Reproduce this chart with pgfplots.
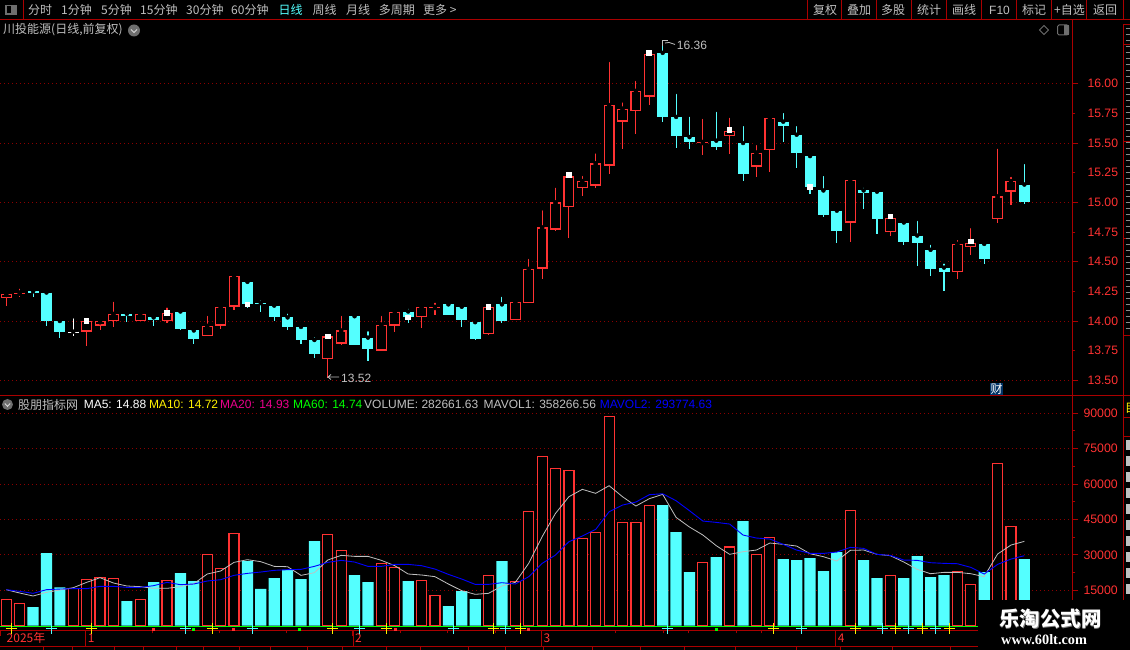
\documentclass[border=0pt]{standalone}
\usepackage{fontspec}
\setmainfont{Liberation Sans}
\newfontfamily\cjk{Noto Sans CJK SC}
\newfontfamily\wmserif{Liberation Serif}
\usepackage{pgfplots}
\usepackage{pgfplotstable}
\pgfplotsset{compat=1.18}
\definecolor{upC}{RGB}{255,50,50}
\definecolor{dnC}{RGB}{84,255,255}
\definecolor{lineC}{RGB}{170,0,0}
\definecolor{gridC}{RGB}{140,0,0}
\definecolor{txtC}{RGB}{192,192,192}
\definecolor{iconC}{RGB}{110,110,110}
\definecolor{blueC}{RGB}{0,0,255}
\definecolor{greenC}{RGB}{0,255,0}
\definecolor{caiC}{RGB}{0,51,102}

% i open high low close
\pgfplotstableread{
i o h l c
0 14.19 14.23 14.13 14.23
1 14.23 14.29 14.20 14.24
6 13.91 14.00 13.79 14.00
7 13.96 14.01 13.92 14.00
8 14.00 14.18 13.95 14.06
10 14.00 14.07 14.00 14.06
12 14.00 14.13 13.98 14.07
15 13.87 14.06 13.87 13.96
16 13.96 14.13 13.93 14.12
17 14.12 14.38 14.09 14.38
24 13.68 13.87 13.52 13.87
25 13.81 14.06 13.80 13.92
28 13.75 14.06 13.75 13.97
29 13.96 14.11 13.91 14.08
31 14.03 14.12 13.94 14.12
32 14.11 14.17 14.05 14.12
36 13.89 14.16 13.88 14.12
38 14.01 14.17 14.01 14.16
39 14.15 14.54 14.15 14.44
40 14.44 14.95 14.35 14.79
41 14.77 15.14 14.76 15.00
42 14.96 15.23 14.70 15.22
43 15.12 15.24 15.05 15.18
44 15.14 15.43 15.12 15.33
45 15.31 16.20 15.24 15.82
46 15.68 15.86 15.45 15.79
47 15.77 16.04 15.58 15.94
48 15.89 16.29 15.82 16.25
52 15.50 15.72 15.40 15.51
54 15.56 15.73 15.41 15.60
56 15.30 15.50 15.21 15.42
57 15.44 15.73 15.26 15.71
63 14.83 15.22 14.67 15.19
66 14.75 14.89 14.72 14.87
71 14.41 14.70 14.35 14.65
72 14.62 14.80 14.56 14.66
74 14.86 15.47 14.83 15.05
75 15.09 15.23 14.98 15.18
}\candlesUp
\pgfplotstableread{
i o h l c
2 14.25 14.27 14.20 14.24
3 14.24 14.25 13.96 14.00
4 14.00 14.00 13.86 13.91
9 14.06 14.07 13.99 14.04
11 14.03 14.04 13.96 14.01
13 14.08 14.09 13.92 13.93
14 13.92 13.95 13.81 13.85
18 14.33 14.36 14.11 14.14
19 14.15 14.19 14.08 14.14
20 14.13 14.16 14.00 14.03
21 14.03 14.08 13.92 13.95
22 13.95 13.98 13.81 13.84
23 13.84 13.88 13.69 13.72
26 14.04 14.07 13.80 13.80
27 13.86 13.93 13.66 13.76
30 14.08 14.12 13.98 14.03
33 14.14 14.16 14.05 14.05
34 14.12 14.13 13.95 14.01
35 13.99 14.02 13.84 13.85
37 14.14 14.22 13.98 14.00
49 16.26 16.36 15.68 15.72
50 15.72 15.93 15.46 15.56
51 15.55 15.74 15.45 15.51
53 15.52 15.78 15.44 15.47
55 15.50 15.66 15.18 15.24
58 15.68 15.77 15.51 15.64
59 15.57 15.66 15.29 15.42
60 15.39 15.39 15.07 15.13
61 15.10 15.24 14.88 14.89
62 14.93 14.96 14.66 14.76
64 15.10 15.14 14.94 15.08
65 15.09 15.10 14.73 14.86
67 14.83 14.83 14.64 14.67
68 14.72 14.86 14.46 14.66
69 14.60 14.66 14.38 14.44
70 14.45 14.50 14.25 14.41
73 14.65 14.65 14.48 14.52
76 15.15 15.34 14.99 15.00
}\candlesDown
\pgfplotstableread{
i o h l c
5 13.91 14.04 13.87 13.90
}\candlesFlat
\pgfplotstableread{
i p
6 14.00
12 14.07
18 14.14
24 13.87
30 14.03
36 14.12
42 15.23
48 16.26
54 15.61
60 15.13
66 14.88
72 14.67
}\whiteMarks
% volume
\pgfplotstableread{
i v
0 11170
1 9475
5 15830
6 19640
7 20490
8 20060
10 11170
12 19220
15 30230
16 24300
17 39130
24 38700
25 31930
28 26420
29 24720
31 19220
32 12860
36 21330
38 18790
39 48450
40 71740
41 66660
42 65810
43 37010
44 39550
45 88690
46 43790
47 43790
48 50990
52 26840
54 33340
56 30230
57 37430
63 48870
66 21330
71 23030
72 17520
74 68780
75 42090
}\volUp
\pgfplotstableread{
i v
2 7920
3 30800
4 16250
9 10460
11 18510
13 22320
14 18930
18 27410
19 15550
20 20210
21 23600
22 19780
23 35880
26 21480
27 18510
30 18930
33 8340
34 14700
35 11310
37 27410
49 51130
50 39690
51 22750
53 29100
55 44350
58 28250
59 27830
60 28680
61 23170
62 31220
64 27830
65 20210
67 20210
68 29530
69 20630
70 21480
73 22750
76 28250
}\volDown
\pgfplotstableread{
i v
0 15260
1 13850
2 12580
3 14130
4 15120
5 16110
6 18370
7 20340
8 18090
9 16820
10 16540
11 15830
12 15830
13 16540
14 17800
15 21900
16 23170
17 26840
18 27970
19 27120
20 25140
21 25000
22 21330
23 22460
24 27830
25 29810
26 29380
27 29380
28 27690
29 25430
30 21900
31 21480
32 20770
33 17670
34 14840
35 13290
36 13710
37 16820
38 18370
39 26430
40 37720
41 47600
42 54660
43 57770
44 56080
45 59320
46 54660
47 50700
48 53810
49 55650
50 45900
51 41810
52 38420
53 33900
54 30230
55 31360
56 32060
57 35030
58 34460
59 33750
60 30500
61 29240
62 27400
63 31920
64 32060
65 30230
66 29660
67 26970
68 23870
69 22030
70 22600
71 22600
72 22030
73 20760
74 30360
75 34180
76 35730
}\mavolOne
\pgfplotstableread{
i v
0 15260
1 14560
2 13710
3 15260
4 15530
5 15690
6 15690
7 16680
8 16680
9 16250
10 16250
11 16960
12 18370
13 17380
14 17670
15 18930
16 19490
17 21330
18 22170
19 22740
20 23450
21 23730
22 23870
23 25140
24 26840
25 27680
26 26970
27 25140
28 25140
29 25980
30 25980
31 25420
32 24010
33 21750
34 19770
35 17510
36 17510
37 18220
38 17650
39 20760
40 26400
41 29940
42 35590
43 37990
44 40810
45 48290
46 51120
47 52390
48 55500
49 55920
50 52950
51 48720
52 44340
53 43770
54 43070
55 38400
56 37140
57 36710
58 34450
59 32050
60 30640
61 30640
62 31200
63 33180
64 32760
65 30220
66 29790
67 27820
68 27680
69 26690
70 26410
71 26260
72 24710
73 21890
74 25980
75 28240
76 29650
}\mavolTwo

\newcommand\tl[4]{\node[anchor=west,inner sep=0pt,text=#1] at (#2pt,{(650-#3)*1pt}) {#4};}
\newcommand\hl[4][lineC]{\draw[#1,line width=1pt] (#2pt,{(650-#4)*1pt}) -- (#3pt,{(650-#4)*1pt});}
\newcommand\vl[4][lineC]{\draw[#1,line width=1pt] (#2pt,{(650-#3)*1pt}) -- (#2pt,{(650-#4)*1pt});}

\begin{document}
\fontsize{12}{14}\selectfont
\begin{tikzpicture}
\useasboundingbox (0,0) rectangle (1130pt,650pt);
\fill[black] (0,0) rectangle (1130pt,650pt);

% ---------- price panel
\begin{axis}[
  at={(0pt,254pt)},anchor=south west,
  scale only axis,width=1072.3pt,height=376pt,
  xmin=-0.47,xmax=79.58,ymin=13.368,ymax=16.537,
  axis y line=right,axis x line=none,
  axis line style={lineC,-,line width=1pt},
  clip mode=individual,
  ytick={13.5,14,14.5,15,15.5,16},
  extra y ticks={13.75,14.25,14.75,15.25,15.75},
  extra y tick style={grid=none,major tick length=3pt,
     y tick label style={xshift=3pt}},
  major tick length=6pt,
  tick align=outside,
  ymajorgrids,
  grid style={gridC,line width=0.9pt,dash pattern=on 1pt off 3pt},
  tick style={lineC,line width=1pt},
  y tick label style={text=upC,font=\fontsize{12.2}{14}\selectfont,xshift=5pt},
  /pgf/number format/.cd,fixed,fixed zerofill,precision=2,assume math mode=true,
]
% wicks
\addplot[only marks,mark=none,error bars/.cd,y dir=minus,y explicit,error mark=none,
   error bar style={upC,line width=1.1pt}]
   table[x=i,y=h,y error minus expr=\thisrow{h}-\thisrow{l}] {\candlesUp};
\addplot[only marks,mark=none,error bars/.cd,y dir=minus,y explicit,error mark=none,
   error bar style={dnC,line width=1.1pt}]
   table[x=i,y=h,y error minus expr=\thisrow{h}-\thisrow{l}] {\candlesDown};
\addplot[only marks,mark=none,error bars/.cd,y dir=minus,y explicit,error mark=none,
   error bar style={white,line width=1.1pt}]
   table[x=i,y=h,y error minus expr=\thisrow{h}-\thisrow{l}] {\candlesFlat};
% bodies
\addplot[only marks,mark=none,error bars/.cd,y dir=minus,y explicit,error mark=none,
   error bar style={upC,line width=11pt}]
   table[x=i,y=c,y error minus expr=\thisrow{c}-\thisrow{o}] {\candlesUp};
\addplot[only marks,mark=none,error bars/.cd,y dir=minus,y explicit,error mark=none,
   error bar style={black,line width=8.6pt}]
   table[x=i,y expr=\thisrow{c}-0.011,y error minus expr={max(\thisrow{c}-\thisrow{o}-0.022,0)}] {\candlesUp};
\addplot[only marks,mark=none,error bars/.cd,y dir=minus,y explicit,error mark=none,
   error bar style={dnC,line width=11pt}]
   table[x=i,y=o,y error minus expr=\thisrow{o}-\thisrow{c}] {\candlesDown};
\addplot[only marks,mark=none,error bars/.cd,y dir=minus,y explicit,error mark=none,
   error bar style={white,line width=11pt}]
   table[x=i,y=o,y error minus expr=\thisrow{o}-\thisrow{c}] {\candlesFlat};
\addplot[only marks,mark=square*,mark size=2.3pt,white,mark options={draw=white,fill=white,line width=0pt}]
   table[x=i,y=p] {\whiteMarks};
\end{axis}

% ---------- volume panel
\begin{axis}[
  at={(0pt,19.7pt)},anchor=south west,
  scale only axis,width=1072.3pt,height=234.3pt,
  xmin=-0.47,xmax=79.58,ymin=-1949,ymax=97330,
  axis y line=right,axis x line=bottom,
  axis line style={lineC,-,line width=1pt},
  clip mode=individual,
  ytick={15000,30000,45000,60000,75000,90000},
  minor y tick num=1,
  scaled y ticks=false,
  xtick={-0.47,5.93,25.88,39.94,61.92},
  xticklabels={\hspace{4.5pt}2025年,1,2,3,4},
  minor xtick={10.95,15.9,20.9,29.4,32.9,36.5,45.5,49.05,50.9,54.5,56.4},
  x tick label style={text=upC,font=\cjk\fontsize{12}{14}\selectfont,anchor=west,inner xsep=2pt,yshift=-2pt},
  major tick length=6pt,minor tick length=3pt,
  tick align=outside,
  x tick style={lineC,line width=1pt},
  y tick style={lineC,line width=1pt},
  ymajorgrids,
  grid style={gridC,line width=0.9pt,dash pattern=on 1pt off 3pt},
  y tick label style={text=upC,font=\fontsize{12.3}{14}\selectfont,xshift=1pt},
  /pgf/number format/.cd,fixed,1000 sep={},assume math mode=true,
]
\addplot[greenC,line width=1pt] coordinates {(-0.47,-424) (79.58,-424)};
\addplot[ybar,bar width=11.2pt,bar shift=0pt,fill=dnC,draw=none] table[x=i,y=v] {\volDown};
\addplot[ybar,bar width=10pt,bar shift=0pt,fill=black,draw=upC,line width=1.2pt] table[x=i,y=v] {\volUp};
\addplot[txtC,line width=0.8pt,sharp plot] table[x=i,y=v] {\mavolOne};
\addplot[blueC,line width=0.9pt,sharp plot] table[x=i,y=v] {\mavolTwo};
% event markers along the date strip
\addplot[only marks,mark=+,mark size=5.5pt,yellow,mark options={line width=1pt}] coordinates {
 (0.37,-1186) (6.35,-1186) (15.38,-1186) (24.34,-1186) (28.4,-1186) (36.36,-1186) (38.4,-1186)
 (57.3,-1186) (63.4,-1186) (66.4,-1186) (68.4,-1186) (70.4,-1186)};
\addplot[only marks,mark=+,mark size=5.5pt,dnC,mark options={line width=1pt}] coordinates {
 (3.36,-1186) (13.36,-1186) (18.36,-1186) (26.36,-1186) (33.37,-1186) (37.3,-1186) (49.35,-1186)
 (59.38,-1186) (65.4,-1186) (67.35,-1186) (69.35,-1186)};
\addplot[only marks,mark=square*,mark size=1pt,upC] coordinates {
 (10.98,-1390) (16.95,-1390) (29.0,-1390) (38.97,-1390)};
\addplot[only marks,mark=square*,mark size=1pt,greenC] coordinates {
 (13.96,-1390) (21.9,-1390) (53.0,-1390)};
\end{axis}

% ---------- frame lines
\hl{0}{1130}{19.5}
\hl{0}{1130}{396}
\hl{0}{1072}{646.3}
\vl{1072.3}{19.5}{630}
\vl{1123.3}{25}{600}
\hl{1123}{1130}{25}
\hl{1123}{1130}{45}
\hl{1123}{1130}{142}
\hl{1123}{1130}{239}
\hl{1123}{1130}{336}
\hl{1123}{1130}{418}
\hl{1123}{1130}{436.7}
\vl{23.5}{0}{19.5}
\foreach \x in {807.3,841.3,876.3,911.3,946.3,981.3,1016.3,1051.3,1086,1123.3}{\vl{\x}{0}{19.5}}
\foreach \x in {85.7,353,541.3,835.7}{\vl{\x}{630}{646.3}}
\foreach \x in {43,72,114,143,176,203,239,270,307,342,386,420,468,505,543,592,640,684,735,796,840,892,950,990}{\vl{\x}{646.3}{650}}

% ---------- right strip fragments
\foreach \y in {29,35,...,333}{\draw[iconC!80!white,line width=1pt] (1125.5pt,{(650-\y)*1pt}) -- (1130pt,{(650-\y)*1pt});}
\foreach \y in {440,456,...,600}{\fill[txtC] (1126pt,{(650-\y)*1pt}) rectangle (1130pt,{(640-\y)*1pt});}
\node[anchor=west,inner sep=0pt,text=yellow] at (1125pt,{(650-408)*1pt}) {\cjk 目};

% ---------- toolbar
\fill[iconC] (5pt,{(650-5)*1pt}) rectangle (17pt,{(650-15)*1pt});
\fill[black] (6.5pt,{(650-6.5)*1pt}) rectangle (10.5pt,{(650-13.5)*1pt});
\tl{txtC}{28}{10}{\cjk 分时}
\tl{txtC}{61}{10}{\cjk 1分钟}
\tl{txtC}{101}{10}{\cjk 5分钟}
\tl{txtC}{140}{10}{\cjk 15分钟}
\tl{txtC}{186}{10}{\cjk 30分钟}
\tl{txtC}{231}{10}{\cjk 60分钟}
\tl{dnC}{278.5}{10}{\cjk 日线}
\tl{txtC}{312.5}{10}{\cjk 周线}
\tl{txtC}{346}{10}{\cjk 月线}
\tl{txtC}{378.6}{10}{\cjk 多周期}
\tl{txtC}{423}{10}{\cjk 更多 >}
\tl{txtC}{813}{10}{\cjk 复权}
\tl{txtC}{847}{10}{\cjk 叠加}
\tl{txtC}{881}{10}{\cjk 多股}
\tl{txtC}{917}{10}{\cjk 统计}
\tl{txtC}{952}{10}{\cjk 画线}
\tl{txtC}{989}{10}{F10}
\tl{txtC}{1022}{10}{\cjk 标记}
\tl{txtC}{1054}{10}{\cjk +自选}
\tl{txtC}{1093}{10}{\cjk 返回}

% ---------- title line
\tl{txtC}{3}{30}{\cjk 川投能源(日线,前复权)}
\fill[iconC] (134pt,{(650-30.5)*1pt}) circle (6pt);
\draw[white!85!black,line width=1pt] (131pt,{(650-29.5)*1pt}) -- (134pt,{(650-32.5)*1pt}) -- (137pt,{(650-29.5)*1pt});
\draw[iconC,line width=0.9pt] (1039.5pt,{(650-30)*1pt}) -- (1044pt,{(650-25.5)*1pt}) -- (1048.5pt,{(650-30)*1pt}) -- (1044pt,{(650-34.5)*1pt}) -- cycle;
\draw[iconC,rounded corners=1.5pt,line width=1pt] (1057.5pt,{(650-25)*1pt}) rectangle (1068.5pt,{(650-35)*1pt});
\fill[iconC] (1064pt,{(650-25)*1pt}) rectangle (1068.5pt,{(650-35)*1pt});

% ---------- high / low annotation
\tl{txtC}{676.7}{45}{16.36}
\draw[txtC,line width=0.8pt] (662.5pt,{(650-46)*1pt}) -- (662.5pt,{(650-40.5)*1pt}) -- (668pt,{(650-40.5)*1pt});
\draw[txtC,line width=0.8pt] (665pt,{(650-43)*1pt}) -- (669pt,{(650-42.5)*1pt}) -- (675pt,{(650-44.5)*1pt});
\tl{txtC}{341}{378}{13.52}
\draw[txtC,line width=0.8pt] (339pt,{(650-377)*1pt}) -- (328pt,{(650-377)*1pt}) -- (331pt,{(650-374.5)*1pt});
\draw[txtC,line width=0.8pt] (328pt,{(650-377)*1pt}) -- (331pt,{(650-379.5)*1pt});

% ---------- finance flag
\fill[caiC] (990pt,{(650-382.7)*1pt}) rectangle (1003pt,{(650-395)*1pt});
\node[inner sep=0pt,text=white,font=\cjk\fontsize{12}{12}\selectfont] at (996.5pt,{(650-389)*1pt}) {财};

% ---------- indicator header
\fill[iconC] (7.5pt,{(650-404.5)*1pt}) circle (5.5pt);
\draw[white!85!black,line width=1pt] (4.8pt,{(650-403.5)*1pt}) -- (7.5pt,{(650-406.3)*1pt}) -- (10.2pt,{(650-403.5)*1pt});
\tl{txtC}{18}{404.5}{\cjk 股朋指标网}
\tl{white}{83.6}{404.5}{MA5: 14.88}
\tl{yellow}{148.8}{404.5}{MA10: 14.72}
\tl{magenta}{220}{404.5}{MA20: 14.93}
\tl{greenC}{293}{404.5}{MA60: 14.74}
\tl{txtC}{364}{404.5}{VOLUME: 282661.63}
\tl{txtC}{483.5}{404.5}{MAVOL1: 358266.56}
\tl{blueC}{599.6}{404.5}{MAVOL2: 293774.63}

% ---------- watermark
\fill[black] (978pt,{(650-600)*1pt}) rectangle (1130pt,0pt);
\node[anchor=west,inner sep=0pt,text=gray,font=\cjk\bfseries\fontsize{20.5}{22}\selectfont] at (999.7pt,{(650-619.7)*1pt}) {乐淘公式网};
\node[anchor=west,inner sep=0pt,text=white,font=\cjk\bfseries\fontsize{20.5}{22}\selectfont] at (999pt,{(650-619)*1pt}) {乐淘公式网};
\node[anchor=west,inner sep=0pt,text=white,font=\wmserif\bfseries\fontsize{14.3}{16}\selectfont] at (1001pt,{(650-640)*1pt}) {www.60lt.com};
\end{tikzpicture}
\end{document}
